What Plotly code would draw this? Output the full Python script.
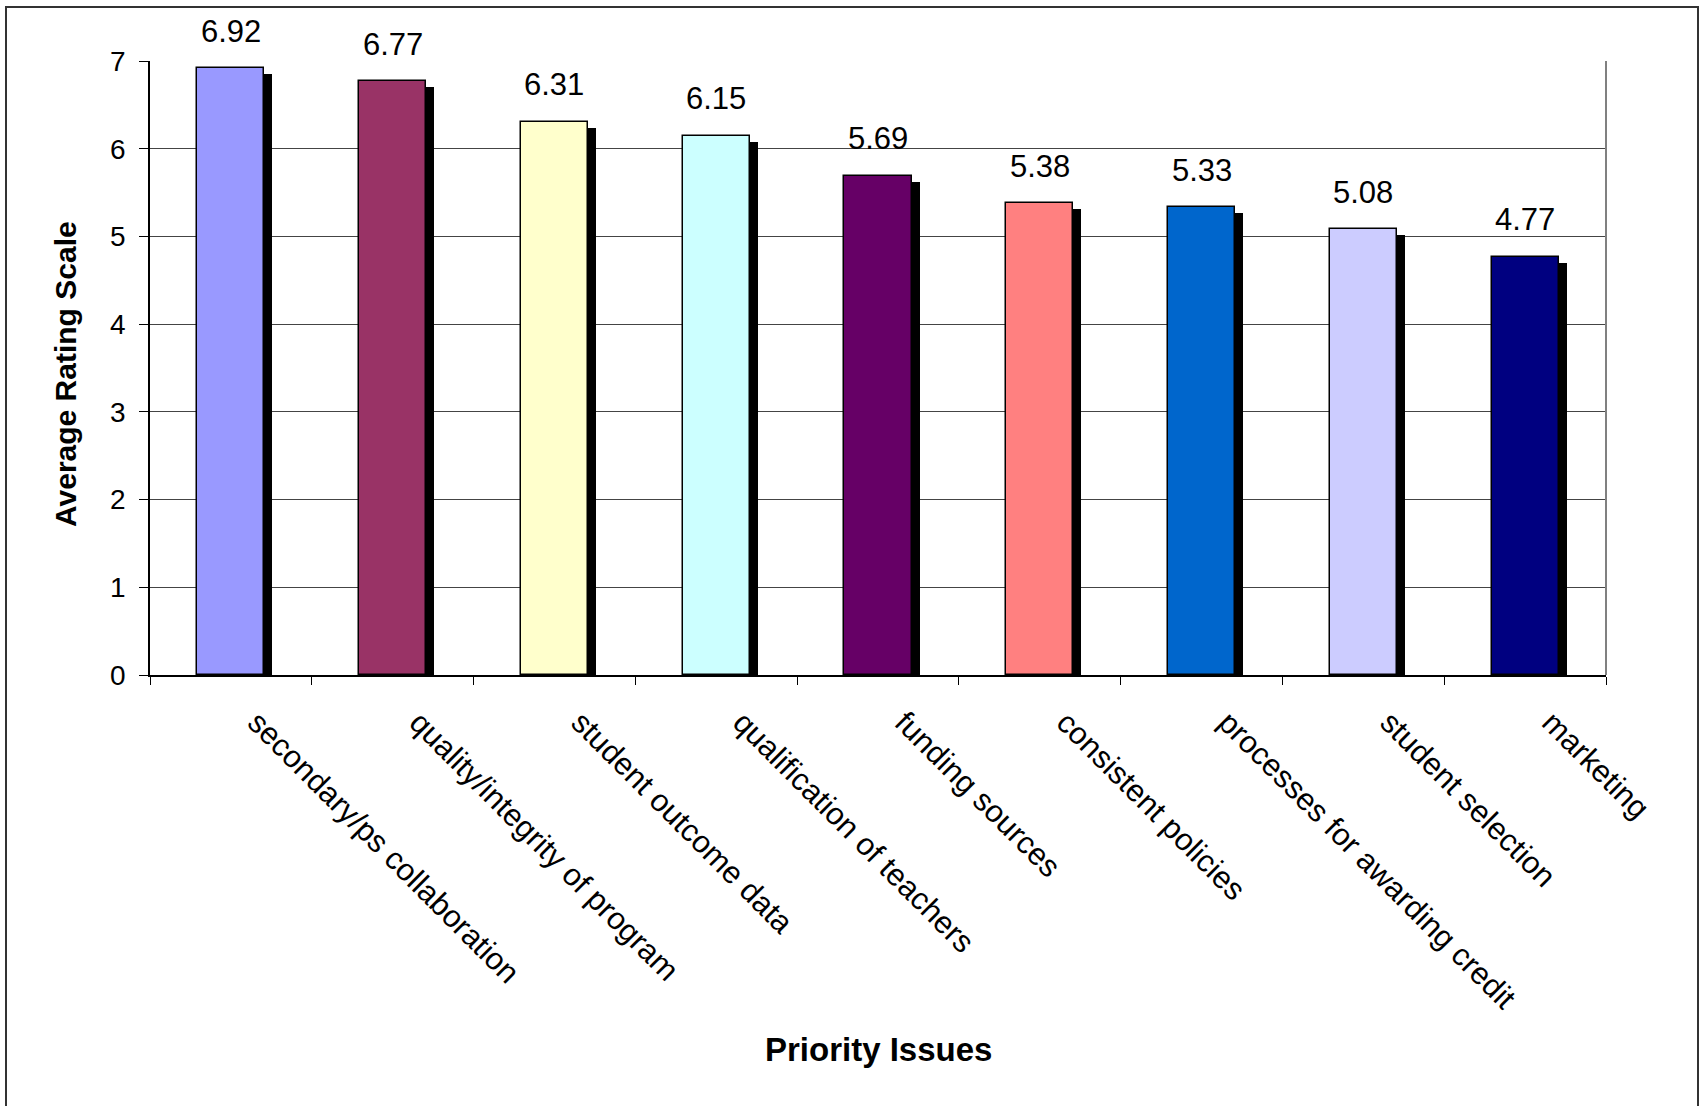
import plotly.graph_objects as go

# Priority issues and their average ratings
issues = [
    "secondary/ps collaboration",
    "quality/integrity of program",
    "student outcome data",
    "qualification of teachers",
    "funding sources",
    "consistent policies",
    "processes for awarding credit",
    "student selection",
    "marketing",
]
ratings = [6.92, 6.77, 6.31, 6.15, 5.69, 5.38, 5.33, 5.08, 4.77]
bar_colors = ["#9999FF", "#993366", "#FFFFCC", "#CCFFFF", "#660066",
              "#FF8080", "#0066CC", "#CCCCFF", "#000080"]
y_ticks = [0, 1, 2, 3, 4, 5, 6, 7]

FONT = "Arial, Liberation Sans, sans-serif"
W, H = 1702, 1106
ML, MR, MT, MB = 150, 96, 61, 431
PW, PH = W - ML - MR, H - MT - MB

BAR_W = 0.415
SHADOW_DX = 8 / (PW / len(issues))          # shadow shift in category units
SHADOW_DY = 6 / (PH / 7.0)                  # shadow drop in value units

fig = go.Figure()

# drop shadow behind each bar
fig.add_trace(go.Bar(
    x=issues, y=[v - SHADOW_DY for v in ratings],
    width=BAR_W, offset=-BAR_W / 2 + SHADOW_DX,
    marker=dict(color="black", line=dict(width=0)),
    hoverinfo="skip", showlegend=False,
))
# main bars
fig.add_trace(go.Bar(
    x=issues, y=ratings,
    width=BAR_W, offset=-BAR_W / 2,
    marker=dict(color=bar_colors, line=dict(color="black", width=1.5)),
    showlegend=False,
))

# value labels above bars
for name, v in zip(issues, ratings):
    fig.add_annotation(x=name, y=v, text=f"{v:.2f}", showarrow=False,
                       yanchor="middle", yshift=37,
                       font=dict(family=FONT, size=31, color="black"))

def px_to_paper_x(px):
    return (px - ML) / PW

def px_to_paper_y(py):
    return (H - MB - py) / PH

# axis titles
fig.add_annotation(x=px_to_paper_x(65), y=px_to_paper_y(374), xref="paper", yref="paper",
                   text="<b>Average Rating Scale</b>", textangle=-90, showarrow=False,
                   xanchor="center", yanchor="middle",
                   font=dict(family=FONT, size=30, color="black"))
fig.add_annotation(x=0.5, y=px_to_paper_y(1049), xref="paper", yref="paper",
                   text="<b>Priority Issues</b>", showarrow=False,
                   xanchor="center", yanchor="middle",
                   font=dict(family=FONT, size=33, color="black"))

# plot-area right border
fig.add_shape(type="line", xref="paper", yref="paper", x0=1, x1=1, y0=0, y1=1,
              line=dict(color="#808080", width=2))
# outer chart frame (open at the bottom)
fx0, fx1 = px_to_paper_x(6), px_to_paper_x(1698)
fy_top, fy_bot = px_to_paper_y(7), px_to_paper_y(1120)
fig.add_shape(type="path", xref="paper", yref="paper",
              path=f"M {fx0} {fy_bot} L {fx0} {fy_top} L {fx1} {fy_top} L {fx1} {fy_bot}",
              line=dict(color="#333333", width=2))

fig.update_layout(
    width=W, height=H, autosize=False,
    margin=dict(l=ML, r=MR, t=MT, b=MB, pad=0),
    paper_bgcolor="white", plot_bgcolor="white",
    barmode="overlay", bargap=0,
    font=dict(family=FONT, color="black"),
)
fig.update_xaxes(
    type="category", tickangle=45, tickson="boundaries",
    ticks="outside", ticklen=8, tickcolor="black", tickwidth=1,
    showline=True, linecolor="black", linewidth=1.5,
    showgrid=False, tickfont=dict(family=FONT, size=31, color="black"),
    ticklabelstandoff=15, ticklabelshift=26,
)
fig.update_yaxes(
    range=[0, 7], tickvals=y_ticks,
    ticks="outside", ticklen=9, tickcolor="black", tickwidth=1,
    showline=True, linecolor="black", linewidth=1.5,
    showgrid=True, gridcolor="#444444", gridwidth=1,
    zeroline=False,
    tickfont=dict(family=FONT, size=28, color="black"),
    ticklabelstandoff=8,
)

fig.write_html("out.html")
